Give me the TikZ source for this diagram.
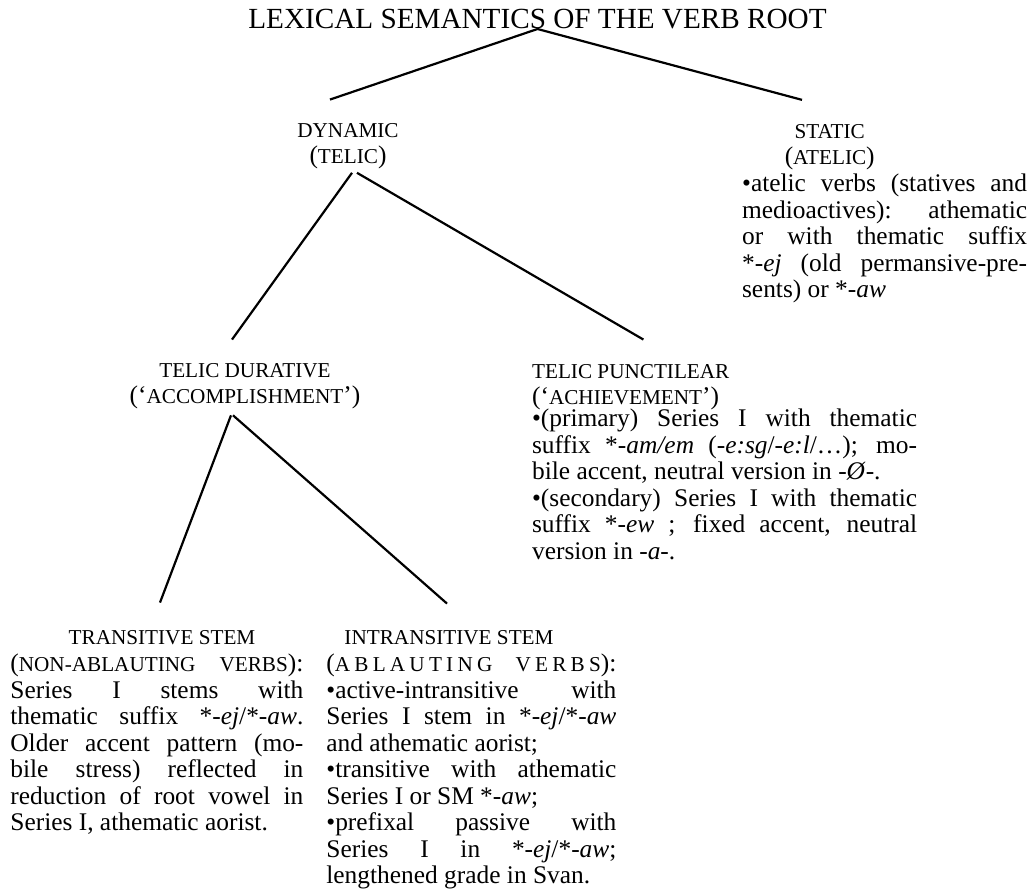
\documentclass[tikz,border=0pt]{standalone}
\usepackage{fontspec}
\setmainfont{Liberation Serif}
\usetikzlibrary{positioning}

\newcommand{\bodyfont}{\fontsize{12.7}{13.25}\selectfont}
\newcommand{\titlefont}{\fontsize{14.6}{17}\selectfont}
\newcommand{\smcap}[1]{{\fontsize{10.6}{13.25}\selectfont #1}}
% stacks of lines, baseline = first line
\newcommand{\cstack}[1]{\vtop{\halign{\hfil##\hfil\cr#1\crcr}}}
\newcommand{\colbox}[2]{\vtop{\hsize=#1\linewidth=#1\relax#2}}
\newcommand{\fl}[1]{\hbox to\linewidth{#1}}
\newcommand{\rl}[1]{\hbox{#1}}

\tikzset{
  head/.style={inner sep=0pt, anchor=base, font=\bodyfont},
  body/.style={inner sep=0pt, anchor=base west, font=\bodyfont},
  branch/.style={line width=1.1pt},
}

\begin{document}
\begin{tikzpicture}[x=0.5pt, y=-0.5pt]
  \useasboundingbox (0,0) rectangle (1032,888);

  \node[head, font=\titlefont] (root) at (537.5,29) {LEXICAL SEMANTICS OF THE VERB ROOT};

  \node[head] (dyn) at (348,137) {\cstack{\smcap{DYNAMIC}\cr(\smcap{TELIC})}};
  \node[head] (stat) at (829.7,138.3) {\cstack{\smcap{STATIC}\cr(\smcap{ATELIC})}};
  \node[body] (statbody) at (741.7,191.7) {\colbox{142.5pt}{%
    \fl{•atelic verbs (statives and}
    \fl{medioactives): athematic}
    \fl{or with thematic suffix}
    \fl{*-\emph{ej} (old permansive-pre-}
    \rl{sents) or *-\emph{aw}}}};

  \node[head] (dur) at (245,377) {\cstack{\smcap{TELIC DURATIVE}\cr(‘\smcap{ACCOMPLISHMENT}’)}};
  \node[body] (punct) at (531.7,378) {\colbox{192.5pt}{%
    \rl{\smcap{TELIC PUNCTILEAR}}
    \rl{(‘\smcap{ACHIEVEMENT}’)}
    \vskip-2.1pt
    \fl{•(primary) Series I with thematic}
    \fl{suffix *-\emph{am/em} (-\emph{e:sg}/-\emph{e:l}/…); mo-}
    \rl{bile accent, neutral version in -\emph{Ø}-.}
    \fl{•(secondary) Series I with thematic}
    \fl{suffix *-\emph{ew} ; fixed accent, neutral}
    \rl{version in -\emph{a}-.}}};

  \node[head] (trans) at (162,644) {\smcap{TRANSITIVE STEM}};
  \node[body] (transbody) at (10,671.7) {\colbox{146.5pt}{%
    \fl{(\smcap{NON-ABLAUTING VERBS}):}
    \fl{Series I stems with}
    \fl{thematic suffix *-\emph{ej}/*-\emph{aw}.}
    \fl{Older accent pattern (mo-}
    \fl{bile stress) reflected in}
    \fl{reduction of root vowel in}
    \rl{Series I, athematic aorist.}}};

  \node[head] (intrans) at (449,644) {\smcap{INTRANSITIVE STEM}};
  \node[body] (intransbody) at (326,671.7) {\colbox{145pt}{%
    \fl{(\smcap{A\hfil B\hfil L\hfil A\hfil U\hfil T\hfil I\hfil N\hfil G} \hfil\hfil\hfil\hfil \smcap{V\hfil E\hfil R\hfil B\hfil S}):}
    \fl{•active-intransitive with}
    \fl{Series I stem in *-\emph{ej}/*-\emph{aw}}
    \rl{and athematic aorist;}
    \fl{•transitive with athematic}
    \rl{Series I or SM *-\emph{aw};}
    \fl{•prefixal passive with}
    \fl{Series I in *-\emph{ej}/*-\emph{aw};}
    \rl{lengthened grade in Svan.}}};

  % branches
  \draw[branch] ([xshift=-9pt,yshift=11.5pt]dyn.north) -- (root.base)
    -- ([xshift=-13.85pt,yshift=12pt]stat.north);
  \draw[branch] ([xshift=-6.5pt,yshift=11.5pt]dur.north) -- ([xshift=2pt,yshift=-1.75pt]dyn.south);
  \draw[branch] ([xshift=4.5pt,yshift=-1.75pt]dyn.south) -- ([xshift=-40.6pt,yshift=12pt]punct.north);
  \draw[branch] ([xshift=-1pt,yshift=13.5pt]trans.north) -- ([xshift=-7pt,yshift=-3pt]dur.south);
  \draw[branch] ([xshift=-6pt,yshift=-3pt]dur.south) -- ([xshift=-1pt,yshift=13pt]intrans.north);
\end{tikzpicture}
\end{document}
